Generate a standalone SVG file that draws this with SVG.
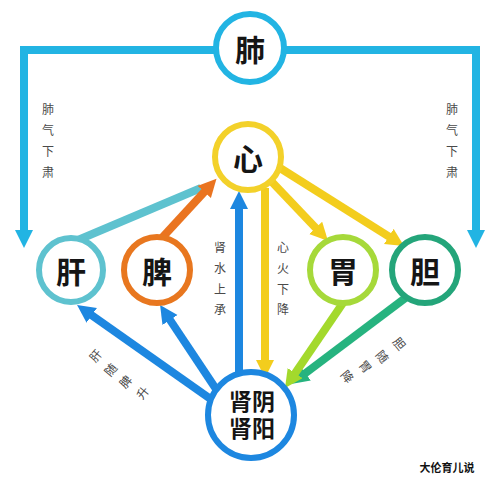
<svg xmlns="http://www.w3.org/2000/svg" width="500" height="482" viewBox="0 0 500 482">
<style>
.node{fill:#fff;stroke-width:6}
.big{font-family:"Noto Sans CJK SC","Noto Sans",sans-serif;font-weight:bold;font-size:30px;fill:#151515;text-anchor:middle;dominant-baseline:central}
.mid{font-family:"Liberation Sans","Noto Sans CJK SC",sans-serif;font-weight:bold;font-size:23px;fill:#151515;text-anchor:middle;dominant-baseline:central}
.lbl{font-family:"Noto Sans CJK SC","Noto Sans",sans-serif;font-size:12px;fill:#4a4a4a;text-anchor:middle;dominant-baseline:central}
.wm{font-family:"Noto Sans CJK SC","Noto Sans",sans-serif;font-weight:bold;font-size:11px;fill:#111;text-anchor:middle;dominant-baseline:central}
.ln{fill:none;stroke-width:8}
</style>
<defs>
<marker id="hSky" markerUnits="userSpaceOnUse" markerWidth="20" markerHeight="20" refX="4" refY="9" orient="auto"><path d="M0,0 L18,9 L0,18 z" fill="#22b4e3"/></marker>
<marker id="hOr" markerUnits="userSpaceOnUse" markerWidth="20" markerHeight="20" refX="4" refY="9" orient="auto"><path d="M0,0 L18,9 L0,18 z" fill="#ea7420"/></marker>
<marker id="hBl" markerUnits="userSpaceOnUse" markerWidth="20" markerHeight="20" refX="4" refY="9" orient="auto"><path d="M0,0 L18,9 L0,18 z" fill="#1d87e0"/></marker>
<marker id="hYe" markerUnits="userSpaceOnUse" markerWidth="20" markerHeight="20" refX="4" refY="9" orient="auto"><path d="M0,0 L18,9 L0,18 z" fill="#f3cd1d"/></marker>
<marker id="hLi" markerUnits="userSpaceOnUse" markerWidth="20" markerHeight="20" refX="4" refY="9" orient="auto"><path d="M0,0 L18,9 L0,18 z" fill="#a3d92c"/></marker>
<marker id="hGr" markerUnits="userSpaceOnUse" markerWidth="20" markerHeight="20" refX="4" refY="9" orient="auto"><path d="M0,0 L18,9 L0,18 z" fill="#26b37f"/></marker>
</defs>

<g id="connectors">
<path class="ln" d="M216,50 H24 V234" stroke="#22b4e3" marker-end="url(#hSky)"/>
<path class="ln" d="M284,50 H476 V234" stroke="#22b4e3" marker-end="url(#hSky)"/>
<path class="ln" d="M78,240 L201,188" stroke="#5ec2cf"/>
<path class="ln" d="M160,240 L207,189" stroke="#ea7420" marker-end="url(#hOr)"/>
<path class="ln" d="M239,376 L239,205" stroke="#1d87e0" marker-end="url(#hBl)"/>
<path class="ln" d="M265,188 L265,364" stroke="#f3cd1d" marker-end="url(#hYe)"/>
<path class="ln" d="M272,182 L318.4,230.8" stroke="#f3cd1d" marker-end="url(#hYe)"/>
<path class="ln" d="M280,168 L392.2,238.6" stroke="#f3cd1d" marker-end="url(#hYe)"/>
<path class="ln" d="M412,293 L302.2,375.6" stroke="#26b37f" marker-end="url(#hGr)"/>
<path class="ln" d="M345,300 L292.9,376.4" stroke="#a3d92c" marker-end="url(#hLi)"/>
<path class="ln" d="M212,400 L88.5,313.1" stroke="#1d87e0" stroke-width="9" marker-end="url(#hBl)"/>
<path class="ln" d="M218,392 L167.8,316.6" stroke="#1d87e0" stroke-width="9" marker-end="url(#hBl)"/>
</g>

<g id="labels">
<text class="lbl" x="48" y="108">肺</text>
<text class="lbl" x="48" y="129">气</text>
<text class="lbl" x="48" y="150">下</text>
<text class="lbl" x="48" y="171">肃</text>
<text class="lbl" x="452" y="108">肺</text>
<text class="lbl" x="452" y="129">气</text>
<text class="lbl" x="452" y="150">下</text>
<text class="lbl" x="452" y="171">肃</text>
<text class="lbl" x="220" y="246">肾</text>
<text class="lbl" x="220" y="267">水</text>
<text class="lbl" x="220" y="288">上</text>
<text class="lbl" x="220" y="308">承</text>
<text class="lbl" x="283" y="246">心</text>
<text class="lbl" x="283" y="267">火</text>
<text class="lbl" x="283" y="288">下</text>
<text class="lbl" x="283" y="308">降</text>
<text class="lbl" transform="translate(95,355) rotate(-50)">肝</text>
<text class="lbl" transform="translate(110,369) rotate(-50)">随</text>
<text class="lbl" transform="translate(125,381) rotate(-50)">脾</text>
<text class="lbl" transform="translate(142,392) rotate(-50)">升</text>
<text class="lbl" transform="translate(400,343) rotate(50)">胆</text>
<text class="lbl" transform="translate(383,356) rotate(50)">随</text>
<text class="lbl" transform="translate(366,366) rotate(50)">胃</text>
<text class="lbl" transform="translate(348,376) rotate(50)">降</text>
<text class="wm" x="447" y="467">大伦育儿说</text>
</g>

<g id="node-fei"><circle class="node" cx="250" cy="48" r="34" stroke="#22b4e3"/><text class="big" x="250" y="48">肺</text></g>
<g id="node-xin"><circle class="node" cx="248" cy="157" r="33" stroke="#f3d12a"/><text class="big" x="248" y="157">心</text></g>
<g id="node-gan"><circle class="node" cx="71" cy="270" r="32" stroke="#5ec2cf"/><text class="big" x="71" y="270">肝</text></g>
<g id="node-pi"><circle class="node" cx="157" cy="270" r="33" stroke="#e8771f"/><text class="big" x="157" y="270">脾</text></g>
<g id="node-wei"><circle class="node" cx="343" cy="270" r="33" stroke="#a6d93a"/><text class="big" x="343" y="270">胃</text></g>
<g id="node-dan"><circle class="node" cx="425" cy="270" r="33" stroke="#24a57a"/><text class="big" x="425" y="270">胆</text></g>
<g id="node-shen"><circle class="node" cx="251" cy="415" r="43" stroke="#1d87e0"/><text class="mid" lang="zh-CN" x="252" y="401.5">肾阴</text><text class="mid" lang="zh-CN" x="252" y="428.5">肾阳</text></g>
</svg>
